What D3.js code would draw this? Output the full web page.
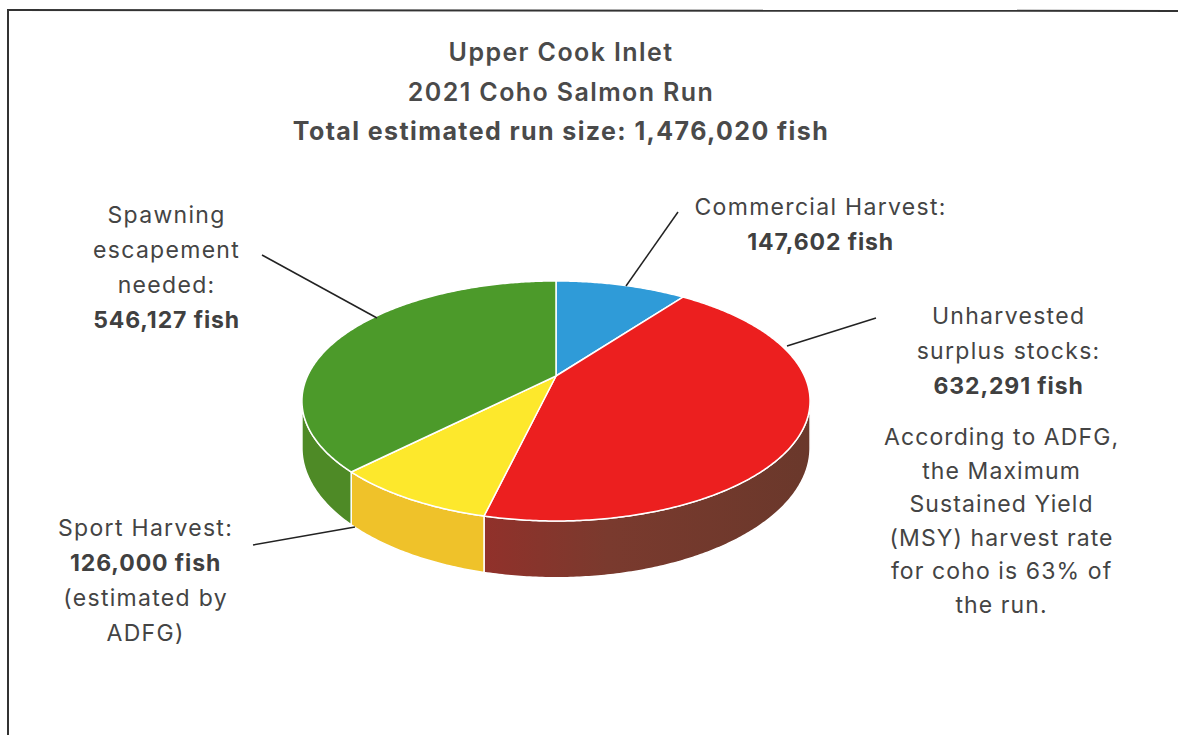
<!DOCTYPE html>
<html><head><meta charset="utf-8">
<script src="https://cdn.jsdelivr.net/npm/d3@7"></script>
<style>body{margin:0;background:#fff}svg{display:block}text{font-family:Inter,"Open Sans",sans-serif}</style>
</head><body><svg id="c" width="1178" height="735"></svg>
<script>
const categories = ["Commercial Harvest", "Unharvested surplus stocks", "Sport Harvest", "Spawning escapement needed"];
const values = [147602, 632291, 126000, 546127];
const topColors = ["#2f9bd8", "#ec1f1f", "#fde82c", "#4c9a2a"];
const sideColors = ["#2a7fb4", "url(#redSide)", "#efc22a", "#4e8a26"];
const titleLines = ["Upper Cook Inlet", "2021 Coho Salmon Run", "Total estimated run size: 1,476,020 fish"];
const labels = [
  {lines: ["Commercial Harvest:", "147,602 fish"], bold: [1], x: 820, y: 215},
  {lines: ["Unharvested", "surplus stocks:", "632,291 fish"], bold: [2], x: 1008, y: 324},
  {lines: ["Sport Harvest:", "126,000 fish", "(estimated by", "ADFG)"], bold: [1], x: 145, y: 536},
  {lines: ["Spawning", "escapement", "needed:", "546,127 fish"], bold: [3], x: 166, y: 223}
];
const noteLines = ["According to ADFG,", "the Maximum", "Sustained Yield", "(MSY) harvest rate", "for coho is 63% of", "the run."];
const leaders = [
  [[678, 212], [626, 286]],
  [[876, 318], [787, 346]],
  [[253, 545], [355, 527]],
  [[262, 255], [377, 318]]
];

const svg = d3.select("#c");
const defs = svg.append("defs");
const g1 = defs.append("linearGradient").attr("id", "redSide").attr("gradientUnits", "userSpaceOnUse")
  .attr("x1", 473).attr("x2", 810).attr("y1", 0).attr("y2", 0);
g1.append("stop").attr("offset", 0).attr("stop-color", "#93302a");
g1.append("stop").attr("offset", 0.4).attr("stop-color", "#7a3a2e");
g1.append("stop").attr("offset", 1).attr("stop-color", "#6a382b");

// frame
svg.append("line").attr("x1", 7).attr("y1", 10).attr("x2", 1178).attr("y2", 11).attr("stroke", "#333").attr("stroke-width", 2);
svg.append("line").attr("x1", 8).attr("y1", 10).attr("x2", 8).attr("y2", 735).attr("stroke", "#333").attr("stroke-width", 2);

// projection of the tilted pie
const cx = 556, cy = 376, A = 248.5, B = 114.8, k = 0.208, D = 45;
function proj(t) {
  const u = Math.sin(t), v = Math.cos(t), den = 1 + k * v;
  return [cx + A * u / den, cy - B * v / den];
}
function depth(t) { return D / (1 + k * Math.cos(t)); }
function arcPts(a0, a1) {
  const n = Math.max(2, Math.ceil((a1 - a0) / 0.01));
  return d3.range(n + 1).map(i => a0 + (a1 - a0) * i / n);
}

const arcs = d3.pie().sort(null).value(d => d)(values);
const fa = Math.acos(-k), fb = 2 * Math.PI - Math.acos(-k); // visible front range

// sides
arcs.forEach((a, i) => {
  const s = Math.max(a.startAngle, fa), e = Math.min(a.endAngle, fb);
  if (e <= s) return;
  const ts = arcPts(s, e);
  const top = ts.map(proj);
  const bot = ts.map(t => { const p = proj(t); return [p[0], p[1] + depth(t)]; }).reverse();
  svg.append("path").attr("d", d3.line()(top.concat(bot)) + "Z")
    .attr("fill", sideColors[i]).attr("stroke", "#fff").attr("stroke-width", 1.5).attr("stroke-linejoin", "round");
});

// tops
arcs.forEach((a, i) => {
  const pts = [[cx, cy]].concat(arcPts(a.startAngle, a.endAngle).map(proj));
  svg.append("path").attr("d", d3.line()(pts) + "Z")
    .attr("fill", topColors[i]).attr("stroke", "#fff").attr("stroke-width", 1.5).attr("stroke-linejoin", "round");
});

// leader lines
leaders.forEach(l => svg.append("line").attr("x1", l[0][0]).attr("y1", l[0][1]).attr("x2", l[1][0]).attr("y2", l[1][1])
  .attr("stroke", "#222").attr("stroke-width", 1.5));

// title
titleLines.forEach((t, i) => svg.append("text").attr("x", 561).attr("y", 61 + i * 39.5)
  .attr("text-anchor", "middle").attr("font-size", 25).attr("letter-spacing", 1.4)
  .attr("font-weight", i === 2 ? 700 : 600)
  .attr("fill", "#4a4a4a").text(t));

// labels
labels.forEach(L => L.lines.forEach((t, j) => svg.append("text").attr("x", L.x + 0.6).attr("y", L.y + j * 35)
  .attr("text-anchor", "middle").attr("font-size", 23).attr("letter-spacing", L.bold.includes(j) ? 0.9 : 1.3)
  .attr("font-weight", L.bold.includes(j) ? 700 : 400)
  .attr("fill", L.bold.includes(j) ? "#404040" : "#444").text(t)));
noteLines.forEach((t, j) => svg.append("text").attr("x", 1001.6).attr("y", 445 + j * 33.5)
  .attr("text-anchor", "middle").attr("font-size", 23).attr("letter-spacing", 1.1)
  .attr("fill", "#444").text(t));
</script></body></html>
